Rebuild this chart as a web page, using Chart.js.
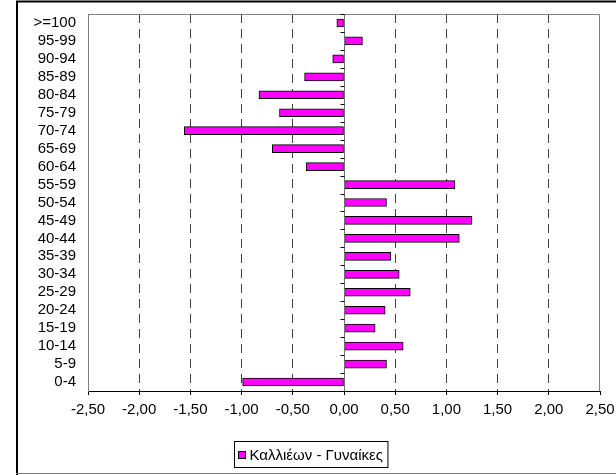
<!DOCTYPE html>
<html><head><meta charset="utf-8">
<script src="https://cdn.jsdelivr.net/npm/chart.js@4.4.1/dist/chart.umd.min.js"></script>
<style>html,body{margin:0;padding:0;background:#fff}#wrap{position:relative;width:616px;height:475px}canvas{display:block}</style>
</head><body><div id="wrap"><canvas id="c" width="616" height="475"></canvas></div>
<script>
const categories = ['0-4','5-9','10-14','15-19','20-24','25-29','30-34','35-39','40-44','45-49','50-54','55-59','60-64','65-69','70-74','75-79','80-84','85-89','90-94','95-99','>=100'];
const values = [-0.99,0.415,0.578,0.304,0.402,0.647,0.539,0.457,1.126,1.25,0.415,1.083,-0.37,-0.70,-1.56,-0.63,-0.83,-0.385,-0.11,0.18,-0.07];
const seriesLabel = 'Καλλιέων - Γυναίκες';
const xMin = -2.5, xMax = 2.5, xStep = 0.5;

const FONT = '"Liberation Sans", Arial, sans-serif';

const framePlugin = {
  id: 'frame',
  beforeDraw(chart) {
    const ctx = chart.ctx;
    ctx.save();
    ctx.fillStyle = '#fff';
    ctx.fillRect(0, 0, chart.width, chart.height);
    ctx.strokeStyle = '#000';
    ctx.lineWidth = 2;
    ctx.beginPath();
    ctx.moveTo(17, 475); ctx.lineTo(17, 1.5); ctx.lineTo(616, 1.5);
    ctx.stroke();
    ctx.strokeStyle = '#808080';
    ctx.lineWidth = 1;
    ctx.beginPath();
    ctx.moveTo(16, 473.5); ctx.lineTo(616, 473.5);
    ctx.stroke();
    ctx.restore();
  },
  afterDatasetsDraw(chart) {
    const ctx = chart.ctx;
    const a = chart.chartArea;
    const xs = chart.scales.x, ys = chart.scales.y;
    ctx.save();
    ctx.strokeStyle = '#808080';
    ctx.lineWidth = 1;
    ctx.beginPath();
    ctx.moveTo(a.left, a.top + 0.5); ctx.lineTo(a.right - 0.5, a.top + 0.5); ctx.lineTo(a.right - 0.5, a.bottom);
    ctx.stroke();
    const zx = Math.round(xs.getPixelForValue(0)) + 0.5;
    ctx.strokeStyle = '#707070';
    ctx.beginPath();
    ctx.moveTo(zx, a.top); ctx.lineTo(zx, a.bottom);
    ctx.stroke();
    ctx.strokeStyle = '#000';
    ctx.beginPath();
    for (let i = 0; i <= categories.length; i++) {
      const y = Math.round(ys.getPixelForValue(i - 0.5)) + 0.5;
      ctx.moveTo(zx - 4, y); ctx.lineTo(zx, y);
    }
    ctx.stroke();
    ctx.restore();
  },
  afterDraw(chart) {
    const ctx = chart.ctx;
    const ds = chart.data.datasets[0];
    ctx.save();
    ctx.font = '15px ' + FONT;
    const tw = ctx.measureText(ds.label).width;
    const bw = tw + 20, bx = Math.round(311 - bw / 2) + 0.5, by = 441.5, bh = 26;
    ctx.fillStyle = '#fff';
    ctx.fillRect(bx, by, bw, bh);
    ctx.strokeStyle = '#000';
    ctx.lineWidth = 1;
    ctx.strokeRect(bx, by, bw, bh);
    ctx.fillStyle = ds.backgroundColor;
    ctx.fillRect(bx + 4, by + 10, 7, 7);
    ctx.strokeRect(bx + 4, by + 10, 7, 7);
    ctx.fillStyle = '#000';
    ctx.textBaseline = 'middle';
    ctx.fillText(ds.label, bx + 15, by + bh / 2 + 1);
    ctx.restore();
  }
};

new Chart(document.getElementById('c'), {
  type: 'bar',
  data: {
    labels: categories,
    datasets: [{
      label: seriesLabel,
      data: values,
      backgroundColor: '#FF00FF',
      borderColor: '#000',
      borderWidth: 1,
      borderSkipped: false,
      barThickness: 8
    }]
  },
  options: {
    indexAxis: 'y',
    responsive: false,
    animation: false,
    devicePixelRatio: 1,
    layout: { padding: { top: 14, right: 16, left: 0, bottom: 0 } },
    plugins: { legend: { display: false }, tooltip: { enabled: false } },
    scales: {
      x: {
        type: 'linear',
        min: xMin, max: xMax,
        afterFit(s) { s.height = 84; s.paddingLeft = 0; s.paddingRight = 0; },
        ticks: {
          stepSize: xStep,
          color: '#000',
          font: { family: FONT, size: 15 },
          padding: 6,
          maxRotation: 0,
          callback: v => v.toFixed(2).replace('.', ',')
        },
        grid: {
          color: c => (Math.abs(c.tick.value) < 1e-9 || Math.abs(Math.abs(c.tick.value) - 2.5) < 1e-9) ? 'rgba(0,0,0,0)' : '#404040',
          tickColor: '#000',
          tickLength: 4,
          lineWidth: 1
        },
        border: { display: true, color: '#000', width: 1, dash: [9, 6] }
      },
      y: {
        type: 'category',
        reverse: true,
        afterFit(s) { s.width = 88; s.paddingTop = 0; s.paddingBottom = 0; },
        ticks: { color: '#000', font: { family: FONT, size: 15 }, padding: 12, autoSkip: false },
        grid: { display: false, drawTicks: false },
        border: { display: true, color: '#808080', width: 1 }
      }
    }
  },
  plugins: [framePlugin]
});
</script></body></html>
